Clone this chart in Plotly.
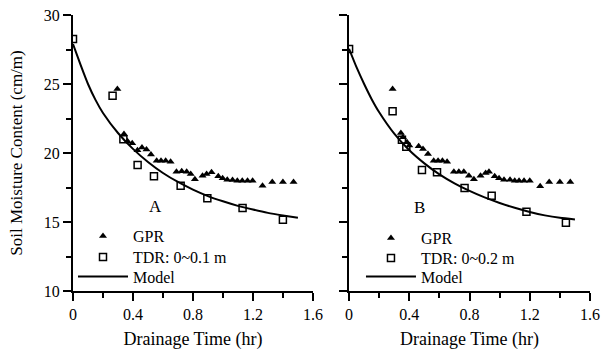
import plotly.graph_objects as go

# ---- Panel A data ----
gpr_a_t = [0.296, 0.34, 0.364, 0.395, 0.43, 0.46, 0.49, 0.52, 0.558, 0.587, 0.618, 0.651,
           0.69, 0.725, 0.758, 0.785, 0.813, 0.864, 0.891, 0.924, 0.969, 0.998, 1.029,
           1.064, 1.096, 1.129, 1.164, 1.198, 1.264, 1.329, 1.40, 1.471]
gpr_a_y = [24.64, 21.38, 20.85, 20.7, 20.2, 20.4, 20.25, 19.9, 19.44, 19.44, 19.44, 19.37,
           18.65, 18.67, 18.65, 18.48, 18.1, 18.36, 18.48, 18.6, 18.31, 18.17, 18.07,
           18.04, 17.99, 17.99, 17.99, 17.99, 17.63, 17.9, 17.9, 17.9]
tdr_a_t = [0, 0.264, 0.336, 0.431, 0.54, 0.718, 0.896, 1.131, 1.40]
tdr_a_y = [28.26, 24.15, 21.0, 19.13, 18.31, 17.63, 16.72, 16.01, 15.17]
model_a_t = [0, 0.05, 0.1, 0.15, 0.2, 0.3, 0.4, 0.5, 0.6, 0.7, 0.8, 0.9, 1.0, 1.1, 1.2, 1.3, 1.4, 1.5]
model_a_y = [27.9, 26.4, 25.0, 23.85, 22.9, 21.45, 20.3, 19.35, 18.55, 17.9, 17.35, 16.88,
             16.5, 16.17, 15.9, 15.66, 15.47, 15.3]

# ---- Panel B data ----
gpr_b_t = [0.289, 0.344, 0.358, 0.385, 0.40, 0.462, 0.491, 0.524, 0.562, 0.591, 0.62, 0.651,
           0.696, 0.729, 0.762, 0.796, 0.829, 0.873, 0.907, 0.929, 0.967, 0.996, 1.029,
           1.069, 1.1, 1.129, 1.162, 1.2, 1.269, 1.329, 1.40, 1.469]
gpr_b_y = [24.64, 21.45, 21.14, 20.78, 20.55, 20.49, 20.29, 19.93, 19.44, 19.44, 19.44, 19.37,
           18.65, 18.65, 18.65, 18.36, 18.1, 18.36, 18.55, 18.65, 18.31, 18.17, 18.07,
           18.07, 17.99, 17.99, 17.99, 17.99, 17.59, 17.9, 17.9, 17.9]
tdr_b_t = [0, 0.289, 0.351, 0.38, 0.484, 0.584, 0.767, 0.947, 1.178, 1.44]
tdr_b_y = [27.54, 23.02, 20.96, 20.45, 18.77, 18.6, 17.46, 16.9, 15.75, 14.95]
model_b_t = [0, 0.05, 0.1, 0.15, 0.2, 0.3, 0.4, 0.5, 0.6, 0.7, 0.8, 0.9, 1.0, 1.1, 1.2, 1.3, 1.4, 1.5]
model_b_y = [27.55, 26.2, 25.0, 23.9, 22.95, 21.4, 20.2, 19.25, 18.45, 17.8, 17.25, 16.78,
             16.38, 16.03, 15.73, 15.48, 15.3, 15.18]

x_ticks = [0, 0.4, 0.8, 1.2, 1.6]
y_ticks = [10, 15, 20, 25, 30]

FONT = "Liberation Serif, Times New Roman, serif"
LEG_FONT = dict(family=FONT, size=16, color="black")
fig = go.Figure()


def add_panel(xa, ya, legs, gt, gy, tt, ty, mt, my, tdr_name):
    fig.add_trace(go.Scatter(x=mt, y=my, mode="lines", name="Model", xaxis=xa, yaxis=ya,
                             line=dict(color="black", width=2, shape="spline", smoothing=0.6),
                             legend=legs[2]))
    fig.add_trace(go.Scatter(x=gt, y=gy, mode="markers", name="GPR", xaxis=xa, yaxis=ya,
                             marker=dict(symbol="triangle-up", size=7, color="black"),
                             legend=legs[0]))
    fig.add_trace(go.Scatter(x=tt, y=ty, mode="markers", name=tdr_name, xaxis=xa, yaxis=ya,
                             marker=dict(symbol="square-open", size=7, color="black",
                                         line=dict(width=1.5, color="black")),
                             legend=legs[1]))


add_panel("x", "y", ["legend", "legend2", "legend3"], gpr_a_t, gpr_a_y, tdr_a_t, tdr_a_y,
          model_a_t, model_a_y, "TDR: 0~0.1 m")
add_panel("x2", "y2", ["legend4", "legend5", "legend6"], gpr_b_t, gpr_b_y, tdr_b_t, tdr_b_y,
          model_b_t, model_b_y, "TDR: 0~0.2 m")

xcommon = dict(range=[0, 1.6], tickvals=x_ticks, ticks="outside", ticklen=8, tickwidth=2,
               tickcolor="black", showline=True, linecolor="black", linewidth=2,
               showgrid=False, zeroline=False, automargin=False,
               minor=dict(dtick=0.2, tick0=0, ticks="outside", ticklen=5, tickwidth=2, tickcolor="black"),
               tickfont=dict(family=FONT, size=16, color="black"),
               title=dict(text="Drainage Time (hr)", font=dict(family=FONT, size=18, color="black"), standoff=10))
ycommon = dict(range=[10, 30], tickvals=y_ticks, ticks="outside", ticklen=8, tickwidth=2,
               tickcolor="black", showline=True, linecolor="black", linewidth=2,
               showgrid=False, zeroline=False, automargin=False,
               minor=dict(dtick=2.5, tick0=10, ticks="outside", ticklen=5, tickwidth=2, tickcolor="black"),
               tickfont=dict(family=FONT, size=16, color="black"))


def leg(x, y):
    return dict(x=x, y=y, xanchor="left", yanchor="middle", bgcolor="rgba(0,0,0,0)",
                font=LEG_FONT, itemwidth=50, tracegroupgap=0)


fig.update_layout(
    width=602, height=350,
    margin=dict(l=73, r=12, t=15, b=59, autoexpand=False),
    paper_bgcolor="white", plot_bgcolor="white",
    font=dict(family=FONT, size=16, color="black"),
    xaxis=dict(domain=[0, 0.464], anchor="y", **xcommon),
    xaxis2=dict(domain=[0.534, 1], anchor="y2", **xcommon),
    yaxis=dict(domain=[0, 1], anchor="x",
               title=dict(text="Soil Moisture Content (cm/m)", font=dict(family=FONT, size=17, color="black"), standoff=17),
               **ycommon),
    yaxis2=dict(domain=[0, 1], anchor="x2", showticklabels=False, **ycommon),
    legend=leg(0.0, 0.199),
    legend2=leg(0.0, 0.123),
    legend3=leg(0.0, 0.052),
    legend4=leg(0.557, 0.192),
    legend5=leg(0.557, 0.119),
    legend6=leg(0.557, 0.052),
    showlegend=True,
    annotations=[
        dict(text="A", xref="paper", yref="paper", x=0.143, y=0.264, showarrow=False,
             font=dict(family=FONT, size=17, color="black")),
        dict(text="B", xref="paper", yref="paper", x=0.684, y=0.26, showarrow=False,
             font=dict(family=FONT, size=17, color="black")),
    ],
)

fig.write_html("out.html")
